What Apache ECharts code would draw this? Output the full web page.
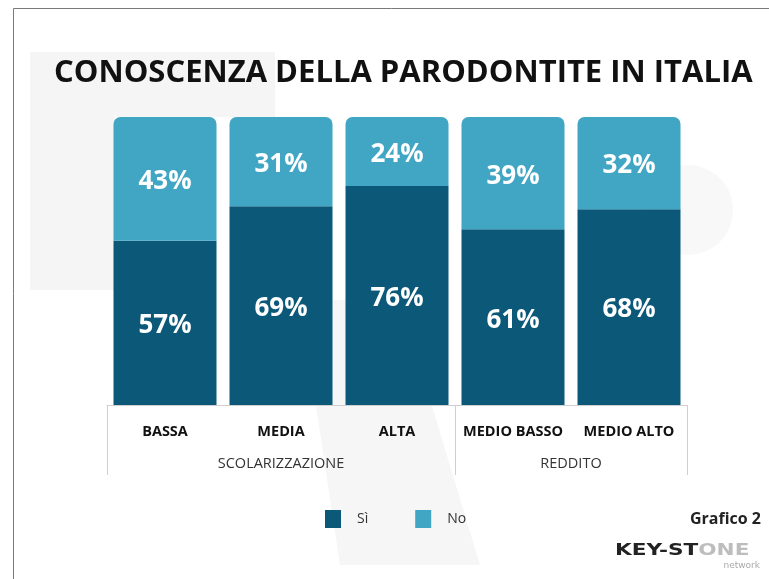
<!DOCTYPE html>
<html>
<head>
<meta charset="utf-8">
<script src="https://cdn.jsdelivr.net/npm/echarts@6/dist/echarts.min.js"></script>
<style>html,body{margin:0;padding:0;background:#fff;}#c{width:769px;height:579px;}</style>
</head>
<body>
<div id="c"></div>
<script>
const categories = ['BASSA', 'MEDIA', 'ALTA', 'MEDIO BASSO', 'MEDIO ALTO'];
const siValues = [57, 69, 76, 61, 68];
const noValues = [43, 31, 24, 39, 32];
const groupNames = ['SCOLARIZZAZIONE', 'REDDITO'];
const groupSizes = [3, 2];
const seriesNames = ['Sì', 'No'];

const FONT = '"Open Sans", "Noto Sans", sans-serif';
const DARK = '#0b5878';
const LIGHT = '#40a6c4';

const groupCenters = {};
const groupBounds = [0];
let acc = 0;
groupSizes.forEach((s, i) => {
  groupCenters[(acc + s / 2).toFixed(2)] = groupNames[i];
  acc += s;
  groupBounds.push(acc);
});

const chart = echarts.init(document.getElementById('c'), null, {renderer: 'canvas'});
const option = {
  backgroundColor: '#ffffff',
  animation: false,
  title: {
    text: 'CONOSCENZA DELLA PARODONTITE IN ITALIA',
    left: 49,
    top: 53,
    textStyle: {fontFamily: FONT, fontWeight: 'bold', fontSize: 31, color: '#111'}
  },
  legend: {
    left: 325,
    top: 510,
    padding: 0,
    itemWidth: 16,
    itemHeight: 18,
    itemGap: 47,
    icon: 'rect',
    textStyle: {fontFamily: FONT, fontSize: 14, color: '#333', padding: [0, 0, 0, 11]},
    data: seriesNames
  },
  grid: {left: 107, right: 82, top: 117, bottom: 174},
  xAxis: [
    {
      type: 'category',
      data: categories,
      axisLine: {show: true, lineStyle: {color: '#cfcfcf', width: 1}},
      axisTick: {
        show: true,
        length: 70,
        interval: function (i) { return groupBounds.indexOf(i) >= 0; },
        lineStyle: {color: '#cfcfcf'}
      },
      axisLabel: {fontFamily: FONT, fontWeight: 'bold', fontSize: 14.5, color: '#111', margin: 19, interval: 0}
    },
    {
      type: 'value',
      min: 0,
      max: categories.length,
      interval: 0.5,
      position: 'bottom',
      axisLine: {show: false},
      axisTick: {show: false},
      splitLine: {show: false},
      axisLabel: {
        fontFamily: FONT, fontSize: 14.5, color: '#333', margin: 51,
        formatter: function (v) { return groupCenters[v.toFixed(2)] || ''; }
      }
    }
  ],
  yAxis: {type: 'value', min: 0, max: 100, show: false},
  series: [
    {
      name: seriesNames[0], type: 'bar', stack: 'a', xAxisIndex: 0, barWidth: 103,
      data: siValues,
      itemStyle: {color: DARK},
      label: {show: true, position: 'inside', formatter: '{c}%', color: '#fff', fontFamily: FONT, fontWeight: 'bold', fontSize: 26, offset: [0, 3]}
    },
    {
      name: seriesNames[1], type: 'bar', stack: 'a', xAxisIndex: 0, barWidth: 103,
      data: noValues,
      itemStyle: {color: LIGHT, borderRadius: [7, 7, 0, 0]},
      label: {show: true, position: 'inside', formatter: '{c}%', color: '#fff', fontFamily: FONT, fontWeight: 'bold', fontSize: 26, offset: [0, 3]}
    }
  ],
  graphic: [
    {type: 'rect', z: -10, silent: true, shape: {x: 30, y: 52, width: 85, height: 238}, style: {fill: '#f5f5f5'}},
    {type: 'rect', z: -10, silent: true, shape: {x: 115, y: 52, width: 160, height: 65}, style: {fill: '#f5f5f5'}},
    {type: 'polygon', z: -10, silent: true, shape: {points: [[300, 300], [400, 300], [480, 565], [340, 565]]}, style: {fill: '#f6f6f6'}},
    {type: 'circle', z: -10, silent: true, shape: {cx: 688, cy: 210, r: 45}, style: {fill: '#f8f8f8'}},
    {type: 'line', silent: true, shape: {x1: 13.5, y1: 8.5, x2: 769, y2: 8.5}, style: {stroke: '#7a7a7a', lineWidth: 1}},
    {type: 'line', silent: true, shape: {x1: 13.5, y1: 8.5, x2: 13.5, y2: 579}, style: {stroke: '#7a7a7a', lineWidth: 1}},
    {type: 'text', right: 8, top: 511, style: {text: 'Grafico 2', font: 'bold 16px "Open Sans", sans-serif', fill: '#222'}},
    {type: 'text', x: 615, y: 543, scaleX: 1.35, style: {
      text: '{a|KEY-ST}{b|ONE}',
      rich: {
        a: {font: 'bold 16px "DejaVu Sans", sans-serif', fill: '#222'},
        b: {font: 'bold 16px "DejaVu Sans", sans-serif', fill: '#bdbdbd'}
      }
    }},
    {type: 'text', right: 9, top: 561, style: {text: 'network', font: '9px "DejaVu Sans", sans-serif', fill: '#aaa'}}
  ]
};
chart.setOption(option);
</script>
</body>
</html>
